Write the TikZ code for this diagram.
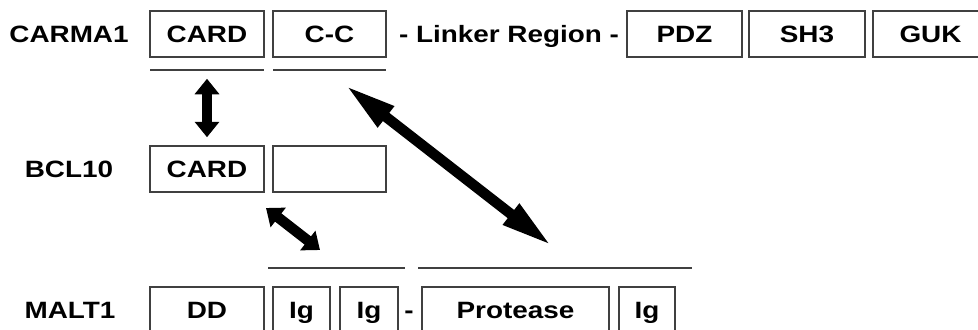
\documentclass[tikz,border=0pt]{standalone}
\usepackage{fontspec}
\setmainfont{Liberation Sans}[FakeStretch=1.18]
\usepackage{tikz}
\usetikzlibrary{positioning,arrows.meta}
\definecolor{boxgray}{HTML}{404040}
\tikzset{
  dombox/.style={draw=boxgray, line width=1.1pt, minimum height=1.15cm, inner sep=0pt, text height=11.8pt, text depth=0pt},
  protlabel/.style={inner sep=0pt, text height=11.8pt, text depth=0pt},
  underbar/.style={draw=boxgray, line width=1.1pt},
  bindarrow/.style={{Triangle[length=11pt, width=17pt]}-{Triangle[length=11pt, width=17pt]}, line width=7.4pt},
  longbind/.style={{Triangle[length=37pt, width=17pt]}-{Triangle[length=37pt, width=17pt]}, line width=7.4pt}
}

\begin{document}
\begin{tikzpicture}[x=0.025cm, y=-0.025cm, every node/.style={font=\bfseries\fontsize{16.8}{18}\selectfont}]
  \clip (0,0) rectangle (978,329);

  % CARMA1
  \node[protlabel] (carma) at (69,34) {CARMA1};
  \node[dombox, minimum width=2.85cm] (c1card) at (207,34) {CARD};
  \node[dombox, minimum width=2.83cm] (c1cc) at (329.5,34) {C-C};
  \node[protlabel] (linker) at (509,34) {- Linker Region -};
  \node[dombox, minimum width=2.875cm] (pdz) at (684.5,34) {PDZ};
  \node[dombox, minimum width=2.9cm] (sh3) at (807,34) {SH3};
  \node[dombox, minimum width=2.875cm] (guk) at (930.5,34) {GUK};
  \draw[underbar] (150,70) -- (264,70);
  \draw[underbar] (273,70) -- (386,70);

  % BCL10
  \node[protlabel] (bcl) at (69,169) {BCL10};
  \node[dombox, minimum width=2.85cm] (b10card) at (207,169) {CARD};
  \node[dombox, minimum width=2.83cm] (b10blank) at (329.5,169) {};

  % MALT1
  \node[protlabel] (malt) at (70,310) {MALT1};
  \node[dombox, minimum width=2.85cm] (m1dd) at (207,310) {DD};
  \node[dombox, minimum width=1.425cm] (m1ig1) at (301.5,310) {Ig};
  \node[dombox, minimum width=1.45cm] (m1ig2) at (369,310) {Ig};
  \node[protlabel] (dash) at (409,310) {-};
  \node[dombox, minimum width=4.675cm] (protease) at (515.5,310) {Protease};
  \node[dombox, minimum width=1.4cm] (m1ig3) at (647,310) {Ig};
  \draw[underbar] (268,268) -- (405,268);
  \draw[underbar] (418,268) -- (692,268);

  % binding arrows
  \coordinate (ccend) at (345,85);
  \coordinate (protend) at (552,246);
  \coordinate (bclend) at (266,208);
  \coordinate (igend) at (320,250);
  \draw[bindarrow, shorten <=0.525cm, shorten >=0.2cm] (c1card.south) -- (b10card.north);
  \draw[bindarrow] (bclend) -- (igend);
  \draw[longbind] (ccend) -- (protend);
\end{tikzpicture}
\end{document}
